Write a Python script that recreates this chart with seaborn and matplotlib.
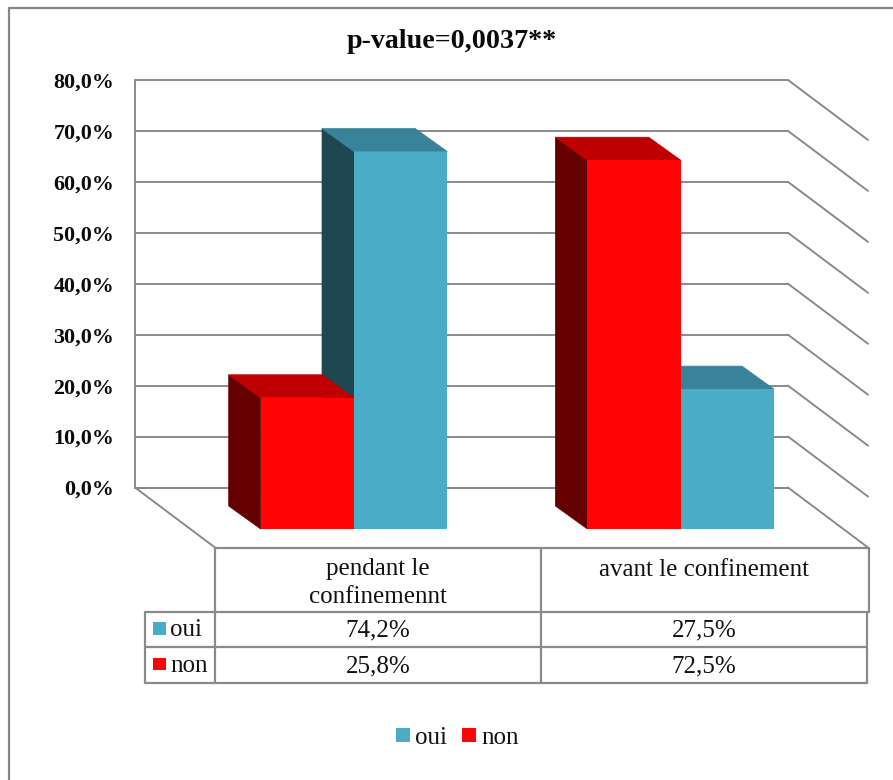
import matplotlib
matplotlib.use("Agg")
import matplotlib.pyplot as plt
import seaborn as sns
import pandas as pd
from matplotlib.patches import Patch, Polygon, Rectangle
from matplotlib.lines import Line2D
from matplotlib.ticker import FuncFormatter

# ---- data ----
categories = ["pendant le\nconfinemennt", "avant le confinement"]
series_names = ["oui", "non"]
oui_values = [74.2, 27.5]
non_values = [25.8, 72.5]
title_text = "p-value=0,0037**"
y_ticks = [0, 10, 20, 30, 40, 50, 60, 70, 80]

# ---- style ----
W, H = 893, 780
BLUE, BLUE_TOP, BLUE_SIDE = "#4BACC6", "#38829A", "#1F4752"
RED, RED_TOP, RED_SIDE = "#FF0404", "#BF0000", "#640000"
GRID = "#8A8A8A"
LW = 1.4

sns.set_theme(style="white")
plt.rcParams["font.family"] = ["Liberation Serif", "DejaVu Serif"]

df = pd.DataFrame({
    "cat": categories * 2,
    "serie": ["non"] * 2 + ["oui"] * 2,
    "val": non_values + oui_values,
})


def fx(x0, y0, x1, y1):
    """Figure rectangle from pixel box (top-left origin)."""
    return [x0 / W, 1 - y1 / H, (x1 - x0) / W, (y1 - y0) / H]


fig = plt.figure(figsize=(W / 100, H / 100), dpi=100, facecolor="white")

# overlay in pixel units for frame, table and title
ov = fig.add_axes([0, 0, 1, 1], zorder=0)
ov.set_xlim(0, W)
ov.set_ylim(H, 0)
ov.axis("off")
ov.add_line(Line2D([9, 9, W], [H, 8, 8], color="#868686", lw=1.6, clip_on=False))

# back wall
back = fig.add_axes(fx(135, 80, 788, 487.5), zorder=1)
back.set_xlim(0, 653)
back.set_ylim(0, 80)
back.patch.set_alpha(0)
back.set_yticks(y_ticks)
back.set_xticks([])
back.yaxis.set_major_formatter(FuncFormatter(lambda v, _: f"{v:.1f}%".replace(".", ",")))
back.tick_params(axis="y", length=0, pad=15, labelsize=15.8, labelcolor="#0A0A0A")
for lab in back.get_yticklabels():
    lab.set_fontweight("bold")
back.grid(axis="y", color=GRID, lw=LW, clip_on=False)
back.set_axisbelow(True)
for side in ("top", "right"):
    back.spines[side].set_visible(False)
for side in ("left", "bottom"):
    back.spines[side].set_color(GRID)
    back.spines[side].set_linewidth(LW)
unit = 407.5 / 80
for v in y_ticks:
    back.plot([653, 733], [v, v - 60 / unit], color=GRID, lw=LW, clip_on=False)
back.plot([0, 80], [0, -60 / unit], color=GRID, lw=LW, clip_on=False)

# front plane with the bars
gx0, step = 354, 326.7
front = fig.add_axes(fx(gx0 - step / 2, 122, gx0 + 1.5 * step, 529), zorder=2)
front.patch.set_alpha(0)
sns.barplot(
    data=df, x="cat", y="val", hue="serie", hue_order=["non", "oui"],
    palette={"oui": BLUE, "non": RED}, order=categories, width=0.5712,
    saturation=1, legend=False, ax=front, zorder=3, linewidth=0, errorbar=None,
)
front.set_xlim(-0.5, 1.5)
front.set_ylim(0, 80)
front.axis("off")

dx = 32 / step        # depth shift in category units
dy = 23 / unit        # depth shift in percent units
styles = [(RED_SIDE, RED_TOP, 2.5), (BLUE_SIDE, BLUE_TOP, 2.0)]
for container, (c_side, c_top, z) in zip(front.containers, styles):
    for bar in container:
        x, w, h = bar.get_x(), bar.get_width(), bar.get_height()
        front.add_patch(Polygon(
            [(x, 0), (x, h), (x - dx, h + dy), (x - dx, dy)],
            fc=c_side, ec=c_side, lw=0.5, zorder=z, clip_on=False))
        front.add_patch(Polygon(
            [(x, h), (x + w, h), (x + w - dx, h + dy), (x - dx, h + dy)],
            fc=c_top, ec=c_top, lw=0.5, zorder=z, clip_on=False))

# title
ov.text(452, 42, title_text, ha="center", va="center", fontsize=20.2,
        fontweight="bold", color="#0A0A0A")

# data table
def seg(x0, y0, x1, y1):
    ov.add_line(Line2D([x0, x1], [y0, y1], color=GRID, lw=LW + 0.2, zorder=1))

seg(215, 548, 869, 548)
seg(145, 611.5, 869, 611.5)
seg(145, 646.5, 867, 646.5)
seg(145, 682.5, 867, 682.5)
seg(215, 548, 215, 682.5)
seg(541, 548, 541, 682.5)
seg(869, 548, 869, 611.5)
seg(867, 611.5, 867, 682.5)
seg(145, 611.5, 145, 682.5)

TBL = 18
CX = [378, 704]
ov.text(CX[0], 583, categories[0], ha="center", va="center", fontsize=TBL,
        linespacing=1.32, color="#111111")
ov.text(CX[1], 570, categories[1], ha="center", va="center", fontsize=TBL, color="#111111")
rows = [("oui", oui_values, BLUE, 628.5), ("non", non_values, RED, 664)]
for name, vals, col, y in rows:
    ov.add_patch(Rectangle((152.5, y - 6.5), 13.5, 12.5, fc=col, ec="none"))
    ov.text(170, y + 2, name, ha="left", va="center", fontsize=TBL, color="#111111")
    for cx, v in zip(CX, vals):
        ov.text(cx, y + 2, f"{v:.1f}%".replace(".", ","), ha="center", va="center",
                fontsize=TBL, color="#111111")

# legend
handles = [Patch(fc=BLUE, ec="none", label=series_names[0]),
           Patch(fc=RED, ec="none", label=series_names[1])]
fig.legend(handles=handles, ncol=2, frameon=False, fontsize=TBL,
           loc="center", bbox_to_anchor=(457.5 / W, 1 - 737.5 / H),
           handlelength=0.54, handleheight=0.5, handletextpad=0.22,
           columnspacing=0.6, labelcolor="#111111")

fig.savefig("out.png", dpi=100, facecolor="white")
